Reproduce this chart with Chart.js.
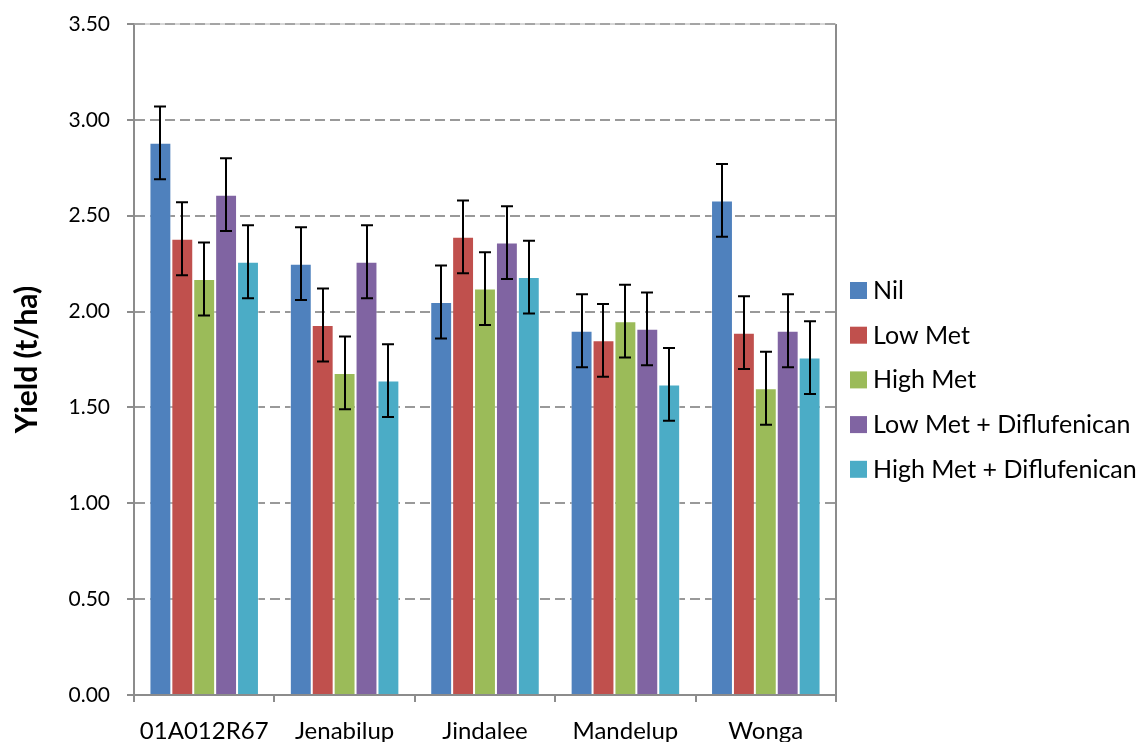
<!DOCTYPE html>
<html>
<head>
<meta charset="utf-8">
<script src="https://cdn.jsdelivr.net/npm/chart.js@4.4.1/dist/chart.umd.min.js"></script>
<style>
  body { margin: 0; background: #fff; overflow: hidden; }
  #wrap { width: 1137px; height: 742px; }
</style>
</head>
<body>
<div id="wrap"><canvas id="yield-chart" width="1137" height="742"></canvas></div>
<script>
// cultivars on the x axis
const cultivars = ['01A012R67', 'Jenabilup', 'Jindalee', 'Mandelup', 'Wonga'];

// treatments (series)
const treatments = ['Nil', 'Low Met', 'High Met', 'Low Met + Diflufenican', 'High Met + Diflufenican'];
const colors = ['#4F81BD', '#C0504D', '#9BBB59', '#8064A2', '#4BACC6'];

// yield t/ha, one array per treatment
const nil      = [2.88, 2.25, 2.05, 1.90, 2.58];
const lowMet   = [2.38, 1.93, 2.39, 1.85, 1.89];
const highMet  = [2.17, 1.68, 2.12, 1.95, 1.60];
const lowMetD  = [2.61, 2.26, 2.36, 1.91, 1.90];
const highMetD = [2.26, 1.64, 2.18, 1.62, 1.76];

// error bar half-widths (+/-)
const errNil      = [0.19, 0.19, 0.19, 0.19, 0.19];
const errLowMet   = [0.19, 0.19, 0.19, 0.19, 0.19];
const errHighMet  = [0.19, 0.19, 0.19, 0.19, 0.19];
const errLowMetD  = [0.19, 0.19, 0.19, 0.19, 0.19];
const errHighMetD = [0.19, 0.19, 0.19, 0.19, 0.19];

const yTicks = [0, 0.5, 1, 1.5, 2, 2.5, 3, 3.5];

const seriesValues = [nil, lowMet, highMet, lowMetD, highMetD];
const seriesErrors = [errNil, errLowMet, errHighMet, errLowMetD, errHighMetD];

const FONT = 'Lato, "Open Sans", sans-serif';

const datasets = treatments.map((name, i) => ({
    label: name,
    data: seriesValues[i],
    errors: seriesErrors[i],
    backgroundColor: colors[i],
    borderColor: 'rgba(255,255,255,0.45)',
    borderWidth: 1,
    categoryPercentage: 0.78,
    barPercentage: 1.0
}));

// draws the +/- error bars from the y scale
const errorBars = {
    id: 'errorBars',
    afterDatasetsDraw(chart) {
        const ctx = chart.ctx;
        const y = chart.scales.y;
        ctx.save();
        ctx.strokeStyle = '#000';
        ctx.lineWidth = 2;
        chart.data.datasets.forEach((ds, i) => {
            const meta = chart.getDatasetMeta(i);
            meta.data.forEach((bar, j) => {
                const v = ds.data[j];
                const e = ds.errors[j];
                const top = y.getPixelForValue(v + e);
                const bot = y.getPixelForValue(v - e);
                const x = Math.round(bar.x);
                ctx.beginPath();
                ctx.moveTo(x, top); ctx.lineTo(x, bot);
                ctx.moveTo(x - 6, top); ctx.lineTo(x + 6, top);
                ctx.moveTo(x - 6, bot); ctx.lineTo(x + 6, bot);
                ctx.stroke();
            });
        });
        ctx.restore();
    }
};

// right and top edges of the plot box
const frame = {
    id: 'frame',
    beforeDatasetsDraw(chart) {
        const { ctx, chartArea: a } = chart;
        ctx.save();
        ctx.strokeStyle = '#8c8c8c';
        ctx.lineWidth = 2;
        ctx.beginPath();
        ctx.moveTo(a.right, a.top);
        ctx.lineTo(a.right, a.bottom + 7);
        ctx.stroke();
        ctx.lineWidth = 1;
        ctx.strokeStyle = '#b0b0b0';
        ctx.beginPath();
        ctx.moveTo(a.left, a.top);
        ctx.lineTo(a.right, a.top);
        ctx.stroke();
        ctx.restore();
    }
};

// legend on the right, Excel style
const sideLegend = {
    id: 'sideLegend',
    afterDraw(chart) {
        const ctx = chart.ctx;
        ctx.save();
        ctx.font = '25px ' + FONT;
        ctx.textBaseline = 'middle';
        ctx.textAlign = 'left';
        chart.data.datasets.forEach((ds, i) => {
            const cy = 290 + i * 44.7;
            ctx.fillStyle = ds.backgroundColor;
            ctx.fillRect(850, cy - 8, 17, 17);
            ctx.fillStyle = '#000';
            ctx.fillText(ds.label, 873, cy + 1);
        });
        ctx.restore();
    }
};

new Chart(document.getElementById('yield-chart'), {
    type: 'bar',
    data: { labels: cultivars, datasets: datasets },
    plugins: [frame, errorBars, sideLegend],
    options: {
        responsive: false,
        animation: false,
        layout: { padding: { top: 24, right: 301, left: 0, bottom: 0 } },
        plugins: {
            legend: { display: false },
            tooltip: { enabled: false }
        },
        scales: {
            x: {
                grid: {
                    drawOnChartArea: false,
                    offset: true,
                    tickLength: 7,
                    color: '#8c8c8c',
                    lineWidth: 2
                },
                border: { color: '#8c8c8c', width: 2 },
                ticks: {
                    color: '#000',
                    padding: 15,
                    font: { family: FONT, size: 24 }
                },
                afterFit(axis) { axis.height = 47; }
            },
            y: {
                min: 0,
                max: 3.5,
                afterBuildTicks(axis) { axis.ticks = yTicks.map(v => ({ value: v })); },
                grid: {
                    color: '#999999',
                    lineWidth: 2,
                    tickLength: 7,
                    tickColor: '#8c8c8c',
                    tickWidth: 2,
                    tickBorderDash: []
                },
                border: { color: '#8c8c8c', width: 2, dash: [10, 5] },
                ticks: {
                    color: '#000',
                    padding: 17,
                    font: { family: FONT, size: 21 },
                    callback: v => Number(v).toFixed(2)
                },
                title: {
                    display: true,
                    text: 'Yield (t/ha)',
                    color: '#000',
                    padding: { top: 9, bottom: 0 },
                    font: { family: FONT, size: 30, weight: 'bold' }
                },
                afterFit(axis) {
                    axis.width = 134;
                    axis.paddingTop = 0;
                    axis.paddingBottom = 0;
                }
            }
        }
    }
});
</script>
</body>
</html>
